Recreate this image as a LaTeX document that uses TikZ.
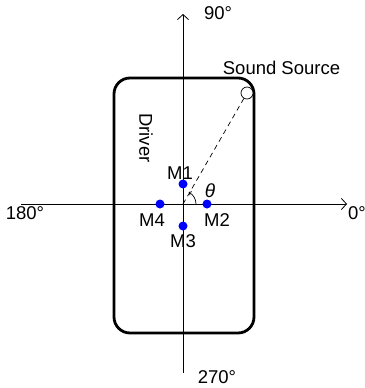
\documentclass[tikz,border=0pt]{standalone}
\usepackage{fontspec}
\setmainfont{Liberation Sans}
\usetikzlibrary{arrows.meta}
\begin{document}
\begin{tikzpicture}[x=1pt,y=-1pt,
  axis/.style={line width=0.8pt},
  lbl/.style={inner sep=0pt,font=\fontsize{18.5}{20}\selectfont},
  mic/.style={circle,fill=blue,inner sep=0pt,minimum size=9pt},
  tip/.style={-{Straight Barb[length=5pt,width=11pt,line width=0.8pt]}}]
\useasboundingbox (0,0) rectangle (364,388);
\coordinate (O) at (183,204);
\coordinate (top) at (183,14);
\coordinate (bot) at (183,373);
\coordinate (left) at (21,204);
\coordinate (right) at (347,204);
% phone body
\draw[line width=2.8pt,rounded corners=16pt] (114,78) rectangle (254,333);
% axes
\draw[axis,tip] (bot) -- (top);
\draw[axis,tip] (left) -- (right);
% sound source
\node[circle,draw,fill=white,line width=0.7pt,minimum size=12pt,inner sep=0pt] (src) at (247,93) {};
\draw[line width=0.7pt,dash pattern=on 5pt off 4pt] (O) -- (src);
% angle arc
\draw[line width=0.7pt,-{Straight Barb[length=2pt,width=4pt]}] ([xshift=13pt]O) arc[start angle=0,end angle=64,radius=13pt];
% microphones
\node[mic] (m1) at (183,184) {};
\node[mic] (m2) at (207,204) {};
\node[mic] (m3) at (183,226) {};
\node[mic] (m4) at (160,204) {};
% labels
\node[lbl] (l90) at (218,13) {90°};
\node[lbl] (l270) at (217,377) {270°};
\node[lbl] (l180) at (25,213) {180°};
\node[lbl,anchor=west] (l0) at (348,213) {0°};
\node[lbl] (ls) at (281.5,68) {Sound Source};
\node[lbl] (lm1) at (180,173) {M1};
\node[lbl] (lm2) at (217,220) {M2};
\node[lbl] (lm3) at (183,241) {M3};
\node[lbl] (lm4) at (152,220) {M4};
\node[lbl,font=\fontsize{19}{20}\selectfont\itshape] (lt) at (210,191) {θ};
\node[lbl,rotate=-90] (ld) at (146,138) {Driver};
\end{tikzpicture}
\end{document}
